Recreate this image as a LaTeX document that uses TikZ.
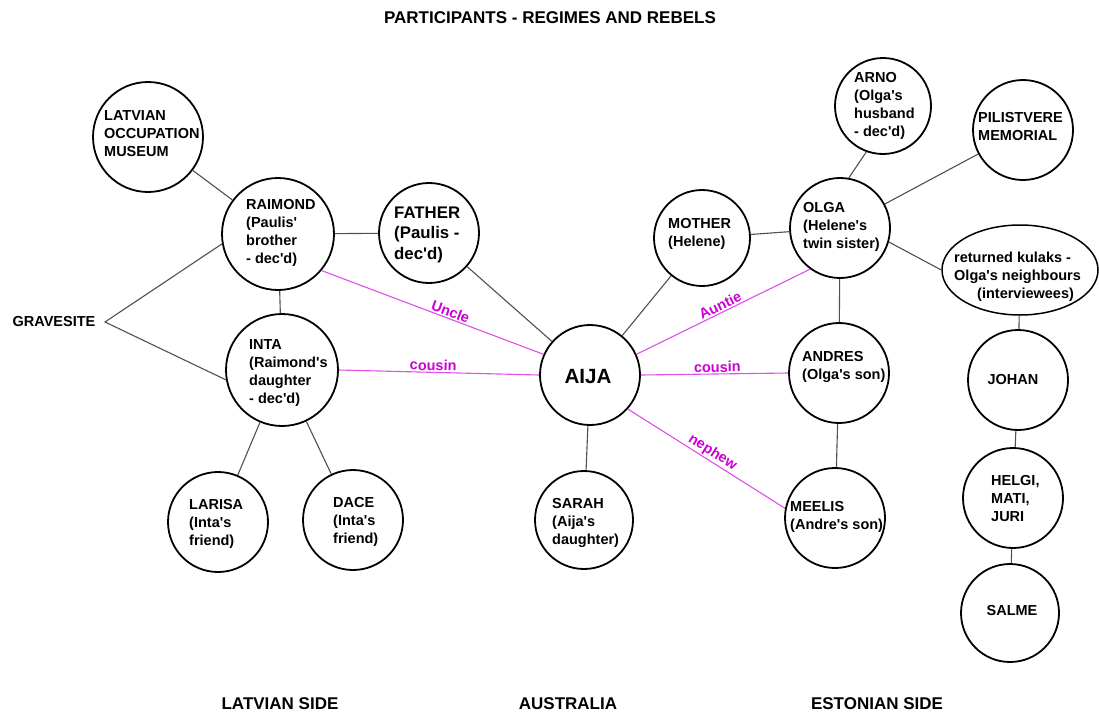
\documentclass[tikz,border=0pt]{standalone}
\usepackage{fontspec}
\usetikzlibrary{shapes.geometric}
\setmainfont{Liberation Sans}
\definecolor{linkgray}{RGB}{80,80,80}
\definecolor{relline}{RGB}{222,80,232}
\definecolor{reltext}{RGB}{205,0,215}
\newcommand\dgnfont{\fontsize{14.5}{18.2}\selectfont\bfseries}
\newcommand\dgbigfont{\fontsize{16.8}{20.5}\selectfont\bfseries}
\newcommand\dgheadfont{\fontsize{17}{20}\selectfont\bfseries}
\newcommand\ap{\textquotesingle}
\begin{document}
\begin{tikzpicture}[x=1pt,y=-1pt,
  bubble/.style={circle,draw=black,line width=1.8pt,minimum size=#1,inner sep=0pt},
  txt/.style={anchor=north west,inner sep=0pt,align=left,font=\dgnfont,yshift=7.55pt},
  bigtxt/.style={anchor=north west,inner sep=0pt,align=left,font=\dgbigfont,yshift=8.34pt},
  ctxt/.style={anchor=center,inner sep=0pt,font=\dgnfont},
  head/.style={anchor=center,inner sep=0pt,font=\dgheadfont},
  link/.style={draw=linkgray,line width=1.1pt},
  rel/.style={draw=relline,line width=1.1pt},
  rellab/.style={sloped,anchor=south,inner sep=1.2pt,text=reltext,font=\dgnfont}]
\path[use as bounding box,fill=white] (0,0) rectangle (1099,715);

% circles
\node[bubble=110pt] (museum) at (148,137) {};
\node[bubble=112pt] (raimond) at (278,234) {};
\node[bubble=100pt] (father) at (429,233) {};
\node[bubble=112pt] (inta) at (282,370) {};
\node[bubble=100pt] (larisa) at (218,522) {};
\node[bubble=100pt] (dace) at (353,520) {};
\node[bubble=100pt] (aija) at (590,375) {};
\node[bubble=98pt] (sarah) at (584,520) {};
\node[bubble=96pt] (mother) at (702,238) {};
\node[bubble=100pt] (olga) at (840,228) {};
\node[bubble=96pt] (arno) at (883,106) {};
\node[bubble=100pt] (pil) at (1023,130) {};
\node[ellipse,draw=black,line width=1.5pt,minimum width=156pt,minimum height=90pt,inner sep=0pt] (kulaks) at (1020,270) {};
\node[bubble=100pt] (andres) at (839,373) {};
\node[bubble=100pt] (meelis) at (835,518) {};
\node[bubble=100pt] (johan) at (1018,380) {};
\node[bubble=100pt] (helgi) at (1013,498) {};
\node[bubble=98pt] (salme) at (1010,613) {};

% texts
\node[txt] (t-museum) at (104,115) {\strut LATVIAN\\OCCUPATION\\MUSEUM};
\node[txt] (t-raimond) at (246,204) {\strut RAIMOND\\(Paulis\ap\\brother\\- dec\ap d)};
\node[bigtxt] (t-father) at (394,212) {\strut FATHER\\(Paulis -\\dec\ap d)};
\node[txt] (t-inta) at (249,344) {\strut INTA\\(Raimond\ap s\\daughter\\- dec\ap d)};
\node[txt] (t-larisa) at (189,504) {\strut LARISA\\(Inta\ap s\\friend)};
\node[txt] (t-dace) at (333,502) {\strut DACE\\(Inta\ap s\\friend)};
\node[anchor=center,inner sep=0pt,font=\fontsize{20.6}{24}\selectfont\bfseries] (t-aija) at (588,377) {AIJA};
\node[txt] (t-sarah) at (552,503) {\strut SARAH\\(Aija\ap s\\daughter)};
\node[txt] (t-mother) at (668,223) {\strut MOTHER\\(Helene)};
\node[txt] (t-olga) at (803,207) {\strut OLGA\\(Helene\ap s\\twin sister)};
\node[txt] (t-arno) at (854,77) {\strut ARNO\\(Olga\ap s\\husband\\- dec\ap d)};
\node[txt] (t-pil) at (978,117) {\strut PILISTVERE\\MEMORIAL};
\node[txt] (t-kulaks) at (954,257) {\strut returned kulaks -\\Olga\ap s neighbours\\\hspace*{23pt}(interviewees)};
\node[txt] (t-andres) at (802,356) {\strut ANDRES\\(Olga\ap s son)};
\node[txt] (t-meelis) at (790,506) {\strut MEELIS\\(Andre\ap s son)};
\node[ctxt] (t-johan) at (1013,380) {JOHAN};
\node[txt] (t-helgi) at (991,480) {\strut HELGI,\\MATI,\\JURI};
\node[ctxt] (t-salme) at (1012,610) {SALME};

% headings
\node[head] (title) at (550,18) {PARTICIPANTS - REGIMES AND REBELS};
\node[ctxt] (grave) at (54,322) {GRAVESITE};
\coordinate (gv) at (105,322);
\node[head] (latside) at (280,704) {LATVIAN SIDE};
\node[head] (ausside) at (568,704) {AUSTRALIA};
\node[head] (estside) at (877,704) {ESTONIAN SIDE};

% black connectors
\draw[link] (museum) -- (raimond);
\draw[link] (raimond) -- (father);
\draw[link] (raimond) -- (inta);
\draw[link] (raimond.190) -- (gv) -- (inta.190);
\draw[link] (father) -- (aija);
\draw[link] (inta) -- (larisa);
\draw[link] (inta) -- (dace);
\draw[link] (aija) -- (mother);
\draw[link] (aija) -- (sarah);
\draw[link] (mother) -- (olga);
\draw[link] (olga.80) -- (arno.250);
\draw[link] (olga) -- (pil);
\draw[link] (olga.-16) -- (kulaks.west);
\draw[link] (olga) -- (andres);
\draw[link] (andres) -- (meelis);
\draw[link] (kulaks) -- (johan);
\draw[link] (johan) -- (helgi);
\draw[link] (helgi) -- (salme);

% relation connectors
\draw[rel] (raimond.-40) -- node[rellab,pos=0.57] (l-uncle) {Uncle} (aija.156);
\draw[rel] (inta.east) -- node[rellab,pos=0.47] (l-cousin1) {cousin} (aija.west);
\draw[rel] (aija.24) -- node[rellab,pos=0.5] (l-auntie) {Auntie} (olga.234);
\draw[rel] (aija.east) -- node[rellab,pos=0.52] (l-cousin2) {cousin} (andres.west);
\draw[rel] (aija.-42) -- node[rellab,pos=0.51] (l-nephew) {nephew} (meelis.169);
\end{tikzpicture}
\end{document}
